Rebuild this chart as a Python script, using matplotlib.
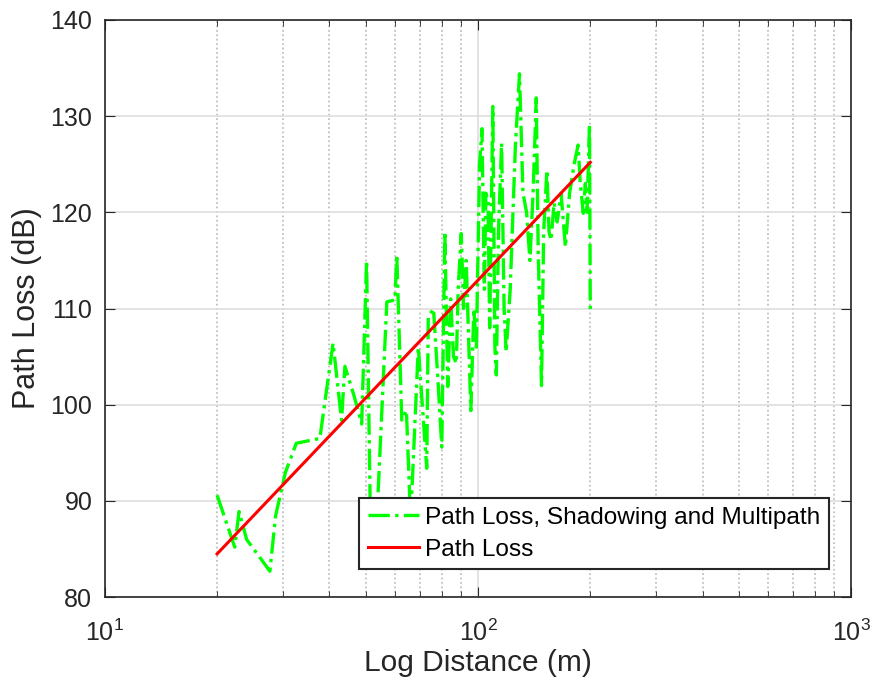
import matplotlib.pyplot as plt
from matplotlib.ticker import LogLocator, NullFormatter

plt.rcParams['font.family'] = ['Liberation Sans', 'DejaVu Sans']

# measured samples: distance (m) and path loss with shadowing + multipath (dB)
distance = [20, 22.3, 22.9, 24.0, 27.7, 28.7, 30.5, 32.6, 37.7, 40.9,
            43.1, 44.0, 46.5, 48.8, 50.3, 51.5, 53.0, 57.0, 59.9, 60.6,
            62.5, 64.3, 66.0, 69.2, 72.9, 73.6, 76.0, 78.0, 80.0, 81.5,
            83.0, 84.5, 86.0, 87.5, 88.5, 90.2, 91.5, 93.0, 95.7, 97.5,
            99.0, 101.0, 102.5, 104.0, 105.0, 106.4, 107.5, 109.6, 111.0, 112.0,
            113.5, 115.7, 117.5, 119.0, 122.0, 126.0, 129.2, 132.0, 135.0, 137.8,
            140.5, 143.3, 145.0, 148.0, 150.0, 153.0, 155.0, 157.0, 160.0, 163.0,
            167.0, 171.5, 176.0, 181.0, 185.5, 188.0, 191.5, 194.0, 196.0, 199.0,
            200.0]
pl_shadow = [90.6, 85.2, 88.9, 86.0, 82.7, 88.5, 93.0, 96.0, 96.5, 106.4,
             98.4, 104.0, 101.0, 98.0, 115.0, 88.0, 84.0, 110.7, 110.9, 115.6,
             98.4, 99.4, 88.0, 106.0, 93.4, 109.1, 110.0, 103.0, 95.6, 118.0,
             101.9, 111.0, 105.0, 104.3, 112.0, 117.8, 110.0, 115.0, 99.4, 110.0,
             106.0, 125.0, 128.7, 112.0, 122.0, 121.3, 108.0, 131.0, 106.0, 103.1,
             118.0, 127.2, 110.0, 105.5, 112.0, 127.0, 134.4, 122.0, 120.0, 115.0,
             122.0, 131.9, 116.0, 102.0, 118.0, 124.4, 118.0, 117.1, 121.0, 119.0,
             122.0, 116.4, 122.0, 125.0, 127.0, 123.0, 119.9, 123.0, 120.0, 129.1,
             109.5]

# mean path loss line
distance_pl = [20, 200]
pl_mean = [84.5, 125.2]

dark = (0.15, 0.15, 0.15)

fig = plt.figure(figsize=(8.73, 6.88), dpi=100)
ax = fig.add_axes([0.120, 0.132, 0.855, 0.839])

ax.semilogx(distance, pl_shadow, '-.', color=(0, 1, 0), linewidth=2.4,
            label='Path Loss, Shadowing and Multipath')
ax.semilogx(distance_pl, pl_mean, '-', color=(1, 0, 0), linewidth=2.2,
            label='Path Loss')

ax.set_xlim(10, 1000)
ax.set_ylim(80, 140)
ax.set_yticks(range(80, 141, 10))
ax.xaxis.set_minor_locator(LogLocator(base=10, subs=range(2, 10)))
ax.xaxis.set_minor_formatter(NullFormatter())

ax.grid(True, which='major', color=(0.87, 0.87, 0.87), linewidth=1.2)
ax.grid(True, which='minor', axis='x', color=(0.72, 0.72, 0.72),
        linestyle=':', linewidth=1.2)
ax.set_axisbelow(True)

for s in ax.spines.values():
    s.set_color(dark)
    s.set_linewidth(1.2)
ax.tick_params(which='both', direction='in', top=True, right=True,
               colors=dark, labelsize=18)
ax.tick_params(which='major', length=7)
ax.tick_params(which='minor', length=4)
ax.tick_params(axis='x', which='major', pad=16)
ax.tick_params(axis='y', which='major', pad=9)

ax.set_xlabel('Log Distance (m)', fontsize=21.5, color=dark, labelpad=2)
ax.set_ylabel('Path Loss (dB)', fontsize=22, color=dark, labelpad=6)

leg = ax.legend(loc='lower right', bbox_to_anchor=(0.9705, 0.0485),
                borderaxespad=0, fancybox=False, framealpha=1,
                fontsize=17.6, handlelength=2.1, handletextpad=0.25,
                borderpad=0.35, labelspacing=0.4)
leg.get_frame().set_edgecolor(dark)
leg.get_frame().set_linewidth(1.5)

fig.savefig('out.png', dpi=100)
